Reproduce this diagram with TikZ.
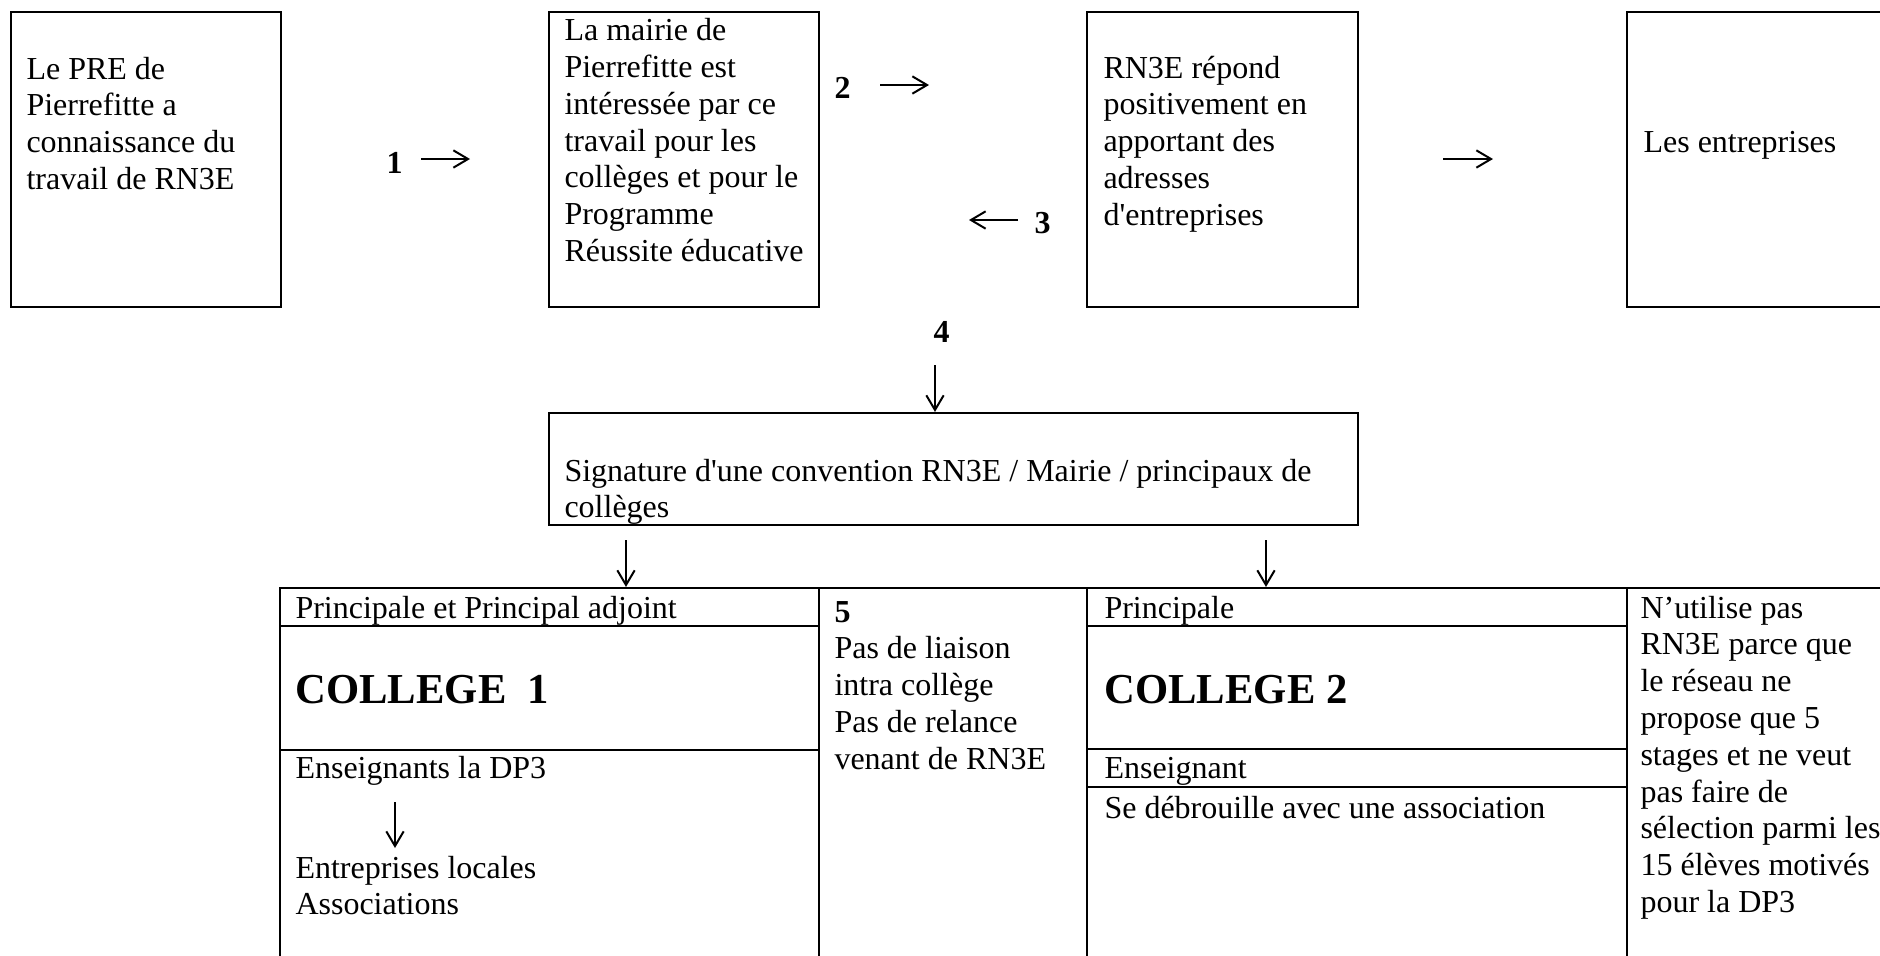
\documentclass[tikz,border=0pt]{standalone}
\usepackage{fontspec}
\setmainfont{Liberation Serif}
\usetikzlibrary{arrows.meta,fit}
\newcommand\tlines[1]{\parbox[t]{230pt}{\raggedright #1}}
\begin{document}
\begin{tikzpicture}[x=0.375pt,y=-0.375pt,
  box/.style={draw, line width=0.8pt, inner sep=0pt},
  txt/.style={anchor=base west, inner sep=0pt, font=\fontsize{12}{13.8}\selectfont},
  num/.style={anchor=base west, inner sep=0pt, font=\fontsize{12}{13.8}\selectfont\bfseries},
  big/.style={anchor=base west, inner sep=0pt, font=\fontsize{16}{19}\selectfont\bfseries},
  arr/.style={line width=0.75pt, -{Straight Barb[length=5.5pt,width=6.5pt]}}]
\useasboundingbox (0,0) rectangle (1880,955);
\clip (0,0) rectangle (1880,955);
\fill[white] (0,0) rectangle (1880,955);

% ---------- top row boxes ----------
\coordinate (b1a) at (11,12);   \coordinate (b1b) at (281,307);
\coordinate (b2a) at (549,12);  \coordinate (b2b) at (819,307);
\coordinate (b3a) at (1087,12); \coordinate (b3b) at (1358,307);
\coordinate (b4a) at (1627,12); \coordinate (b4b) at (1910,307);
\node[box, fit=(b1a)(b1b)] (b1) {};
\node[box, fit=(b2a)(b2b)] (b2) {};
\node[box, fit=(b3a)(b3b)] (b3) {};
\node[box, fit=(b4a)(b4b)] (b4) {};

\node[txt] (t1) at (26,79) {\tlines{Le PRE de\\Pierrefitte a\\connaissance du\\travail de RN3E}};
\node[txt] (t2) at (564,40.7) {\tlines{La mairie de\\Pierrefitte est\\intéressée par ce\\travail pour les\\collèges et pour le\\Programme\\Réussite éducative}};
\node[txt] (t3) at (1103,78) {\tlines{RN3E répond\\positivement en\\apportant des\\adresses\\d\textquotesingle entreprises}};
\node[txt] (t4) at (1643,152) {Les entreprises};

% ---------- numbered arrows ----------
\node[num] (n1) at (386,173) {1};
\coordinate (a1s) at (421,159); \coordinate (a1e) at (470,159);
\draw[arr] (a1s) -- (a1e);

\node[num] (n2) at (834,98) {2};
\coordinate (a2s) at (880,85); \coordinate (a2e) at (929,85);
\draw[arr] (a2s) -- (a2e);

\node[num] (n3) at (1034,233) {3};
\coordinate (a3s) at (1018,220); \coordinate (a3e) at (969,220);
\draw[arr] (a3s) -- (a3e);

\coordinate (a0s) at (1443,159); \coordinate (a0e) at (1493,159);
\draw[arr] (a0s) -- (a0e);

% ---------- convention box ----------
\coordinate (b5a) at (549,413); \coordinate (b5b) at (1358,525);
\node[box, fit=(b5a)(b5b)] (b5) {};
\node[txt] (t5) at (564,481) {\tlines{\hsize=330pt Signature d\textquotesingle une convention RN3E / Mairie / principaux de\\collèges}};

\node[num] (n4) at (933,342) {4};
\coordinate (a4s) at (935,365);
\draw[arr] (a4s) -- (a4s |- b5.north);

% ---------- bottom table ----------
\coordinate (c1ha) at (280,588);  \coordinate (c1hb) at (819,626);
\coordinate (c1ma) at (280,626);  \coordinate (c1mb) at (819,750);
\coordinate (c1ba) at (280,750);  \coordinate (c1bb) at (819,975);
\coordinate (c2a)  at (819,588);  \coordinate (c2b)  at (1087,975);
\coordinate (c3ha) at (1087,588); \coordinate (c3hb) at (1627,626);
\coordinate (c3ma) at (1087,626); \coordinate (c3mb) at (1627,749);
\coordinate (c3ea) at (1087,749); \coordinate (c3eb) at (1627,787);
\coordinate (c3ba) at (1087,787); \coordinate (c3bb) at (1627,975);
\coordinate (c4a)  at (1627,588); \coordinate (c4b)  at (1910,975);
\node[box, fit=(c1ha)(c1hb)] (c1h) {};
\node[box, fit=(c1ma)(c1mb)] (c1m) {};
\node[box, fit=(c1ba)(c1bb)] (c1b) {};
\node[box, fit=(c2a)(c2b)] (c2) {};
\node[box, fit=(c3ha)(c3hb)] (c3h) {};
\node[box, fit=(c3ma)(c3mb)] (c3m) {};
\node[box, fit=(c3ea)(c3eb)] (c3e) {};
\node[box, fit=(c3ba)(c3bb)] (c3b) {};
\node[box, fit=(c4a)(c4b)] (c4) {};

\coordinate (a5s) at (626,540);
\draw[arr] (a5s) -- (a5s |- c1h.north);
\coordinate (a6s) at (1266,540);
\draw[arr] (a6s) -- (a6s |- c3h.north);

\node[txt] (t6) at (295,618) {Principale et Principal adjoint};
\node[big] (t7) at (295,703) {COLLEGE\ \ 1};
\node[txt] (t8) at (295,778) {Enseignants la DP3};
\coordinate (a7s) at (395,802); \coordinate (a7e) at (395,848);
\draw[arr] (a7s) -- (a7e);
\node[txt] (t9) at (295,878) {\tlines{Entreprises locales\\Associations}};

\node[txt] (t10) at (834,622) {\tlines{\textbf{5}\\Pas de liaison\\intra collège\\Pas de relance\\venant de RN3E}};

\node[txt] (t11) at (1104,618) {Principale};
\node[big] (t12) at (1104,703) {COLLEGE 2};
\node[txt] (t13) at (1104,778) {Enseignant};
\node[txt] (t14) at (1104,818) {Se débrouille avec une association};

\node[txt] (t15) at (1640,618) {\tlines{N’utilise pas\\RN3E parce que\\le réseau ne\\propose que 5\\stages et ne veut\\pas faire de\\sélection parmi les\\15 élèves motivés\\pour la DP3}};
\end{tikzpicture}
\end{document}
